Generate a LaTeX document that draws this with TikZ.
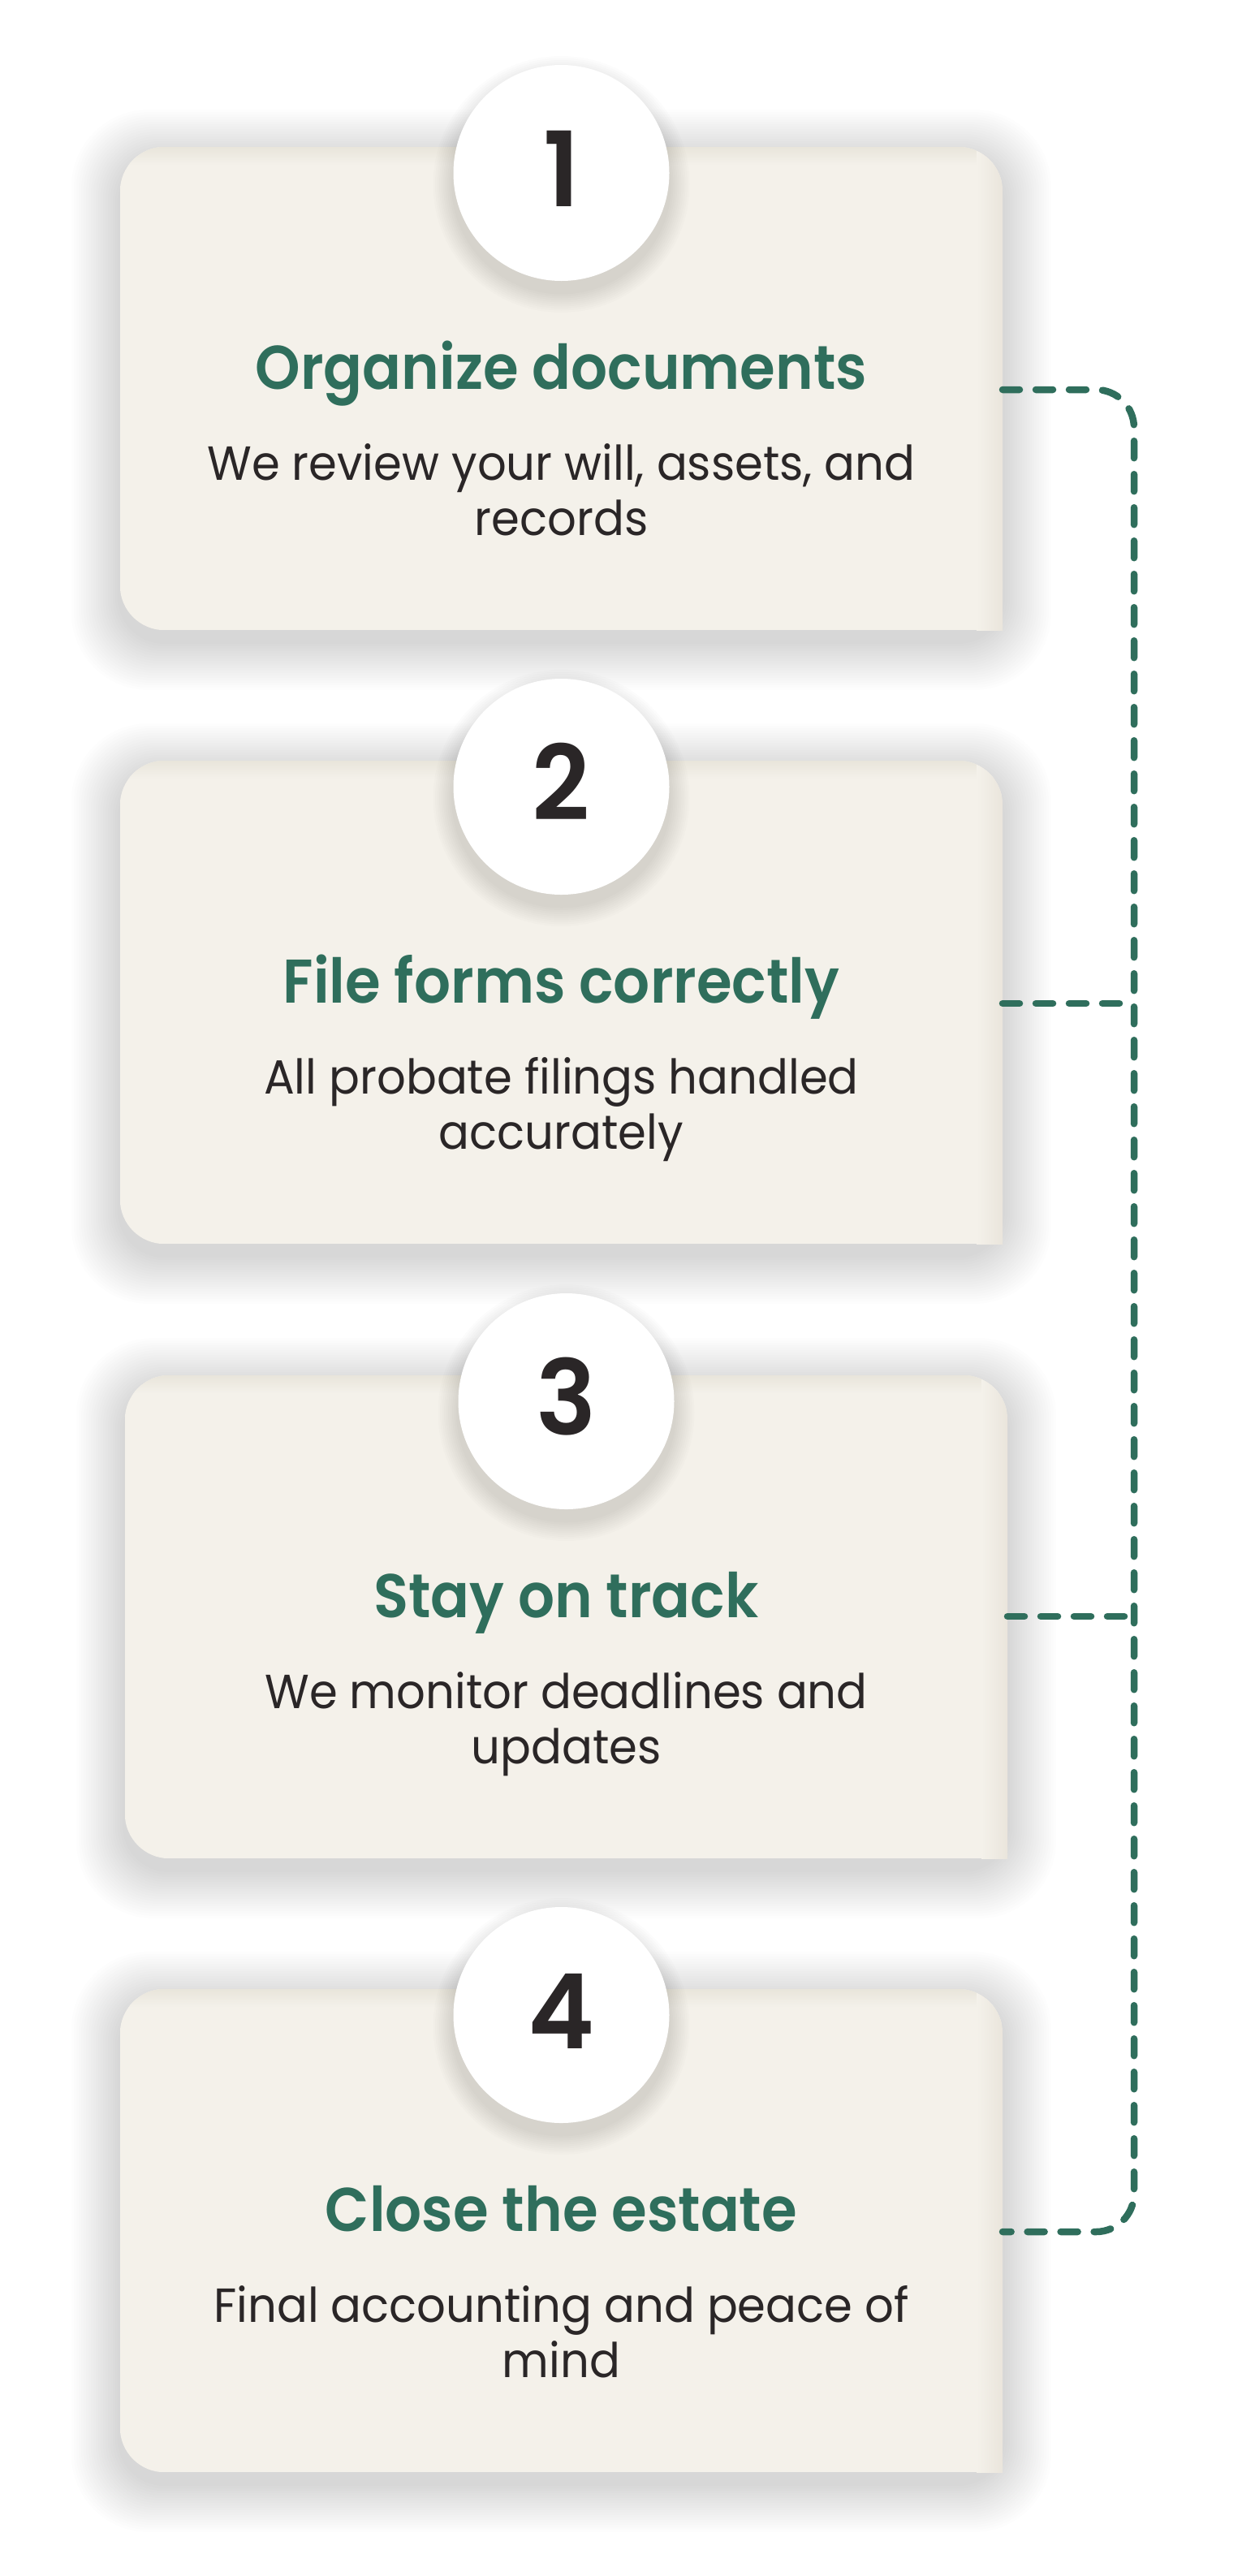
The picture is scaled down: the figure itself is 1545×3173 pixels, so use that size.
\documentclass[tikz,border=0pt]{standalone}
\usepackage{fontspec}
\setmainfont{Poppins}[FakeStretch=0.95]
\newfontfamily\semib{Poppins SemiBold}[FakeStretch=0.93]
\newfontfamily\numfont{Poppins SemiBold}[FakeStretch=0.97]
\definecolor{cardfill}{HTML}{F4F1EA}
\definecolor{cardtop}{HTML}{E9E5DB}
\definecolor{cardedge}{HTML}{EAE5DC}
\definecolor{green}{HTML}{2F6E5C}
\definecolor{ink}{HTML}{2A2627}
\tikzset{
  cardbox/.style={rectangle, inner sep=0pt, minimum width=1087pt, minimum height=595pt},
  numcircle/.style={circle, fill=white, inner sep=0pt, minimum size=266pt},
  numtext/.style={font=\numfont\fontsize{128}{128}\selectfont, text=ink, anchor=base, inner sep=0pt},
  titletext/.style={font=\semib\fontsize{76}{80}\selectfont, text=green, anchor=base, inner sep=0pt},
  desctext/.style={font=\fontsize{59}{68}\selectfont, text=ink, anchor=base, inner sep=0pt},
  conn/.style={draw=green, line width=8.5pt, line cap=round, dash pattern=on 21pt off 20pt, rounded corners=47pt},
}
\begin{document}
\begin{tikzpicture}[x=1pt,y=-1pt]
\useasboundingbox[fill=white] (0,0) rectangle (1545,3173);
% x0, y0(top), number, title, line1, line2
\foreach \x/\y/\n/\ti/\da/\db in {
  148/181/1/{Organize documents}/{We review your will, assets, and}/{records},
  148/937/2/{File forms correctly}/{All probate filings handled}/{accurately},
  154/1694/3/{Stay on track}/{We monitor deadlines and}/{updates},
  148/2450/4/{Close the estate}/{Final accounting and peace of}/{mind}}{
  \pgfmathsetmacro{\xa}{\x+1087}
  \pgfmathsetmacro{\yb}{\y+595}
  \pgfmathsetmacro{\xc}{\x+543.5}
  \pgfmathsetmacro{\yc}{\y+297.5}
  % card shadow
  \foreach \k in {1,...,20}{
    \fill[black, opacity=0.0065, rounded corners=55+2*\k] (\x-3*\k,\y+14-3*\k) rectangle (\xa+3*\k,\yb+14+3*\k);
  }
  \node[cardbox] (card\n) at (\xc,\yc) {};
  \begin{scope}
    \clip[rounded corners=55] (card\n.south west) rectangle (card\n.north east);
    \fill[cardfill] (card\n.south west) rectangle (card\n.north east);
    \shade[top color=cardtop, bottom color=cardfill] (\x,\y) rectangle (\xa,\y+22);
    \shade[left color=cardfill, right color=cardedge] (\xa-32,\y) rectangle (\xa,\yb);
  \end{scope}
  \fill[cardfill] (\xa-60,\yb-60) rectangle (\xa-32,\yb);
  \shade[left color=cardfill, right color=cardedge] (\xa-32,\yb-60) rectangle (\xa,\yb);
  % circle shadow
  \foreach \k in {1,...,10}{
    \fill[black, opacity=0.012] (\xc,\y+32+14) circle (133+2.5*\k);
  }
  \node[numcircle] (circ\n) at (\xc,\y+32) {};
  \node[numtext] (num\n) at (\xc,\y+32+41) {\n};
  \node[titletext] (title\n) at (\xc,\y+298) {\ti};
  \node[desctext] (desca\n) at (\xc,\y+410) {\da};
  \node[desctext] (descb\n) at (\xc,\y+478) {\db};
}
% connectors
\coordinate (o1) at (1235,480);
\coordinate (o2) at (1235,1236);
\coordinate (o3) at (1241,1991);
\coordinate (o4) at (1235,2749);
\coordinate (j1) at (1397,480);
\coordinate (j2) at (1397,1236);
\coordinate (j3) at (1397,1991);
\coordinate (j4) at (1397,2749);
\draw[conn] (o1) -- (j1) -- (j4) -- (o4);
\draw[conn] (o2) -- (j2);
\draw[conn] (o3) -- (j3);
\end{tikzpicture}
\end{document}
